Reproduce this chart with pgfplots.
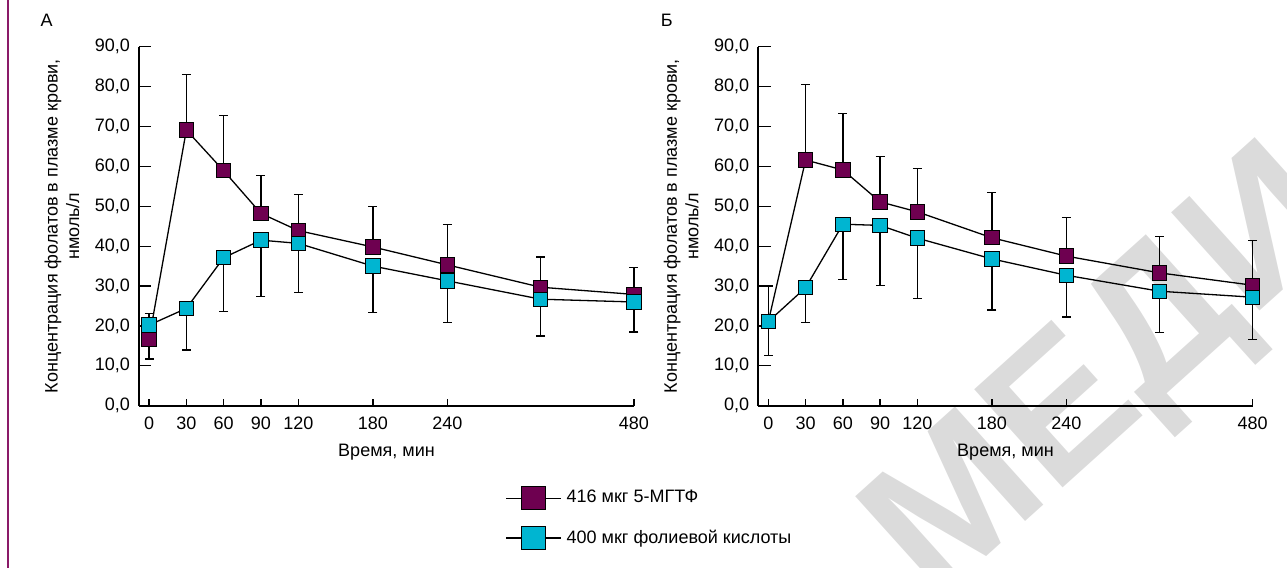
\documentclass[border=0pt]{standalone}
\usepackage{fontspec}
\setmainfont{Liberation Sans}
\usepackage{pgfplots}
\pgfplotsset{compat=1.18}
\usepackage{pgfplotstable}

\definecolor{mgtf}{HTML}{6E0050}
\definecolor{folic}{HTML}{00B5D1}
\definecolor{pageline}{HTML}{8A1A68}
\definecolor{wmark}{HTML}{DBDBDB}

% x positions: 0=0, 30=1, 60=2, 90=3, 120=4, 180=6, 240=8, 360=10.5, 480=13
\pgfplotstableread{
x y e
0 16.7 6.5
1 69.1 14.0
2 58.9 13.8
3 48.2 9.5
4 43.9 9.1
6 39.8 10.1
8 35.3 10.2
10.5 29.7 7.6
13 27.9 6.8
}\aMGTF
\pgfplotstableread{
x y e
0 20.2 8.5
1 24.4 10.4
2 37.1 13.4
3 41.5 14.2
4 40.7 12.3
6 35.0 11.6
8 31.3 10.5
10.5 26.7 9.2
13 26.0 7.5
}\aFolic
\pgfplotstableread{
x y e
0 21.1 8.9
1 61.6 19.0
2 59.1 14.1
3 51.1 11.4
4 48.6 10.9
6 42.1 11.3
8 37.5 9.6
10.5 33.3 9.1
13 30.2 11.3
}\bMGTF
\pgfplotstableread{
x y e
0 21.1 8.6
1 29.6 8.7
2 45.5 13.8
3 45.2 15.0
4 42.0 15.2
6 36.8 12.8
8 32.7 10.5
10.5 28.7 10.4
13 27.2 10.6
}\bFolic

\pgfplotsset{
  panel/.style={
    scale only axis, width=247.5pt, height=179.5pt,
    xmin=-0.27, xmax=13, ymin=0, ymax=90, clip=false,
    axis lines*=left, axis line style={line width=1pt},
    tick align=inside, major tick length=6.2pt,
    tick style={black, line width=0.65pt},
    xtick style={/pgfplots/major tick length=3.3pt},
    xtick={0,1,2,3,4,6,8,13},
    xticklabels={0,30,60,90,120,180,240,480},
    ytick={0,10,...,90},
    yticklabel style={xshift=-1pt, /pgf/number format/.cd, fixed, fixed zerofill, precision=1, use comma, assume math mode=true},
    xticklabel style={yshift=-2pt},
    xlabel={Время, мин},
    xlabel style={at={(axis description cs:0.5,0)}, anchor=center, yshift=-23pt},
    ylabel={Концентрация фолатов в плазме крови,},
    ylabel style={at={(axis description cs:-0.174,0.5)}, anchor=center},
  },
  ebar/.style={only marks, mark=none, forget plot,
    error bars/.cd, y dir=#1, y explicit,
    error bar style={draw=black, line width=0.65pt},
    error mark options={rotate=90, draw=black, mark size=2.25pt, line width=0.65pt}},
  series/.style={black, line width=0.65pt, mark=square*, mark size=3.6pt,
    mark options={fill=#1, draw=black, line width=0.5pt, solid}},
}

\begin{document}
\begin{tikzpicture}[font=\fontsize{9}{10.8}\selectfont]
\useasboundingbox (0,0) rectangle (643.5pt,284pt);
\node[rotate=42, text=wmark, font=\bfseries\fontsize{96}{96}\selectfont] at (582pt,117pt) {МЕДИА};
\draw[pageline, line width=0.8pt] (4pt,0pt) -- (4pt,284pt);
\node at (23.35pt,273.65pt) {А};
\node at (333.35pt,273.65pt) {Б};

\begin{axis}[panel, at={(69.5pt,81.15pt)}, anchor=south west,
  legend style={draw=none, fill=none, inner sep=0pt, at={(0.7394,-0.2209)}, anchor=north west,
    row sep=7pt, column sep=0pt, nodes={inner sep=2.5pt}},
  legend cell align=left]
\addplot[ebar=plus] table[x=x, y=y, y error=e] {\aMGTF};
\addplot[ebar=minus] table[x=x, y=y, y error=e] {\aFolic};
\addplot[series=mgtf, legend image code/.code={
  \draw[black, line width=0.65pt] (0pt,0pt) -- (27.5pt,0pt);
  \draw[black, line width=0.5pt, fill=mgtf] (7.85pt,-5.9pt) rectangle (19.65pt,5.9pt);}]
  table[x=x, y=y] {\aMGTF};
\addlegendentry{416 мкг 5-МГТФ}
\addplot[series=folic, legend image code/.code={
  \draw[black, line width=0.65pt] (0pt,0pt) -- (27.5pt,0pt);
  \draw[black, line width=0.5pt, fill=folic] (7.85pt,-5.9pt) rectangle (19.65pt,5.9pt);}]
  table[x=x, y=y] {\aFolic};
\addlegendentry{400 мкг фолиевой кислоты}
\node[rotate=90] at (axis description cs:-0.134,0.5) {нмоль/л};
\end{axis}

\begin{axis}[panel, at={(379.15pt,81.15pt)}, anchor=south west, width=247.2pt]
\addplot[ebar=plus] table[x=x, y=y, y error=e] {\bMGTF};
\addplot[ebar=minus] table[x=x, y=y, y error=e] {\bFolic};
\addplot[series=mgtf] table[x=x, y=y] {\bMGTF};
\addplot[series=folic] table[x=x, y=y] {\bFolic};
\node[rotate=90] at (axis description cs:-0.134,0.5) {нмоль/л};
\end{axis}
\end{tikzpicture}
\end{document}
